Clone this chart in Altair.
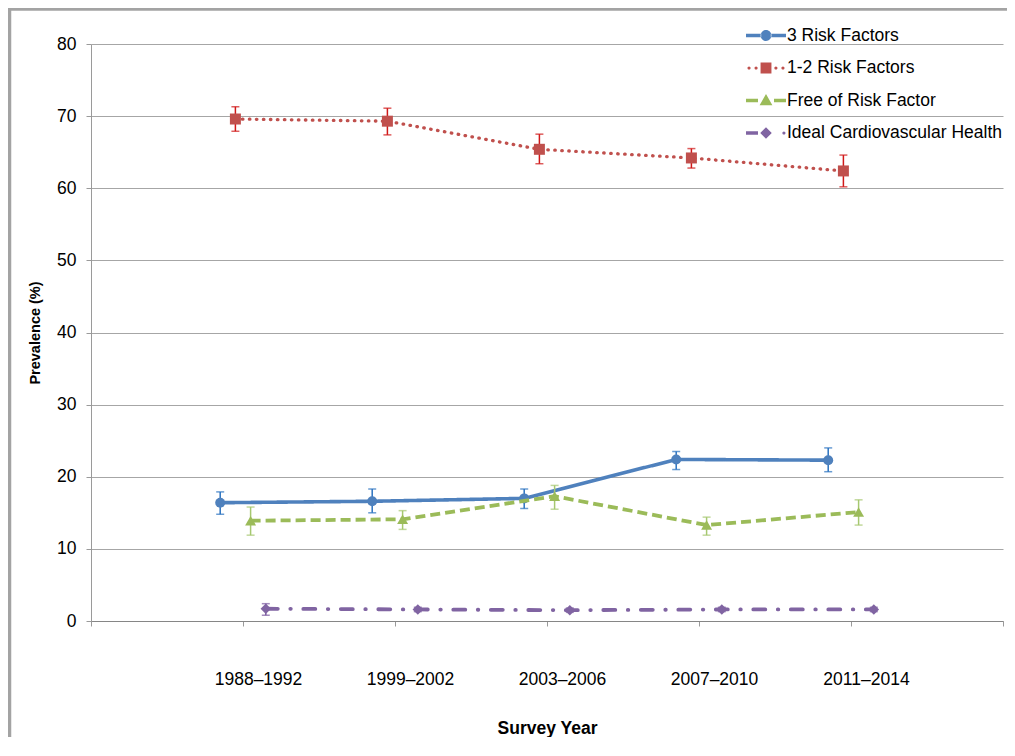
import json
import altair as alt
import pandas as pd

# ---------------- data ----------------
periods = ["1988–1992", "1999–2002", "2003–2006", "2007–2010", "2011–2014"]
series_names = ["3 Risk Factors", "1-2 Risk Factors", "Free of Risk Factor",
                "Ideal Cardiovascular Health"]

three_rf = [16.4, 16.6, 17.0, 22.4, 22.3]
three_rf_lo = [14.8, 15.0, 15.6, 21.0, 20.7]
three_rf_hi = [17.9, 18.3, 18.3, 23.5, 24.0]

one_two_rf = [69.6, 69.3, 65.4, 64.2, 62.4]
one_two_rf_lo = [67.9, 67.4, 63.4, 62.8, 60.2]
one_two_rf_hi = [71.3, 71.1, 67.5, 65.5, 64.6]

free_rf = [13.9, 14.1, 17.3, 13.3, 15.1]
free_rf_lo = [11.9, 12.7, 15.5, 11.9, 13.3]
free_rf_hi = [15.8, 15.3, 18.8, 14.4, 16.8]

ideal_cvh = [1.7, 1.6, 1.5, 1.6, 1.6]
ideal_cvh_lo = [0.8, 1.3, 1.2, 1.3, 1.3]
ideal_cvh_hi = [2.4, 1.9, 1.8, 1.9, 1.9]

y_ticks = [0, 10, 20, 30, 40, 50, 60, 70, 80]

# per-series horizontal jitter (Excel scatter style)
x_offsets = [-0.15, -0.05, 0.05, 0.15]

values = [three_rf, one_two_rf, free_rf, ideal_cvh]
lows = [three_rf_lo, one_two_rf_lo, free_rf_lo, ideal_cvh_lo]
highs = [three_rf_hi, one_two_rf_hi, free_rf_hi, ideal_cvh_hi]

rows = []
for s, name in enumerate(series_names):
    for i, p in enumerate(periods):
        rows.append({"series": name, "period": p, "x": i + 1 + x_offsets[s],
                     "y": values[s][i], "lo": lows[s][i], "hi": highs[s][i]})
df = pd.DataFrame(rows)

# ---------------- styles ----------------
FONT = "Liberation Sans"
line_colors = ["#4f81bd", "#c0504d", "#9bbb59", "#8064a2"]
err_colors = ["#2a72c0", "#d01818", "#a6c870", "#7a5aa0"]
line_widths = [3.6, 3.3, 3.8, 3.8]
line_dashes = [[1, 0], [0.5, 6.5], [10, 5], [12, 12.5, 0.5, 12.5]]
line_caps = ["butt", "round", "butt", "round"]
marker_shapes = ["circle", "square", "triangle-up", "diamond"]
marker_sizes = [100, 121, 120, 110]

# legend symbols: a line pattern with a marker (units: 1 = 16 px with size 1024)
legend_paths = [
    "M-1.25,-0.11L-0.3,-0.11L-0.3,0.11L-1.25,0.11Z "
    "M0.3,-0.11L1.25,-0.11L1.25,0.11L0.3,0.11Z "
    "M-0.34,0A0.34,0.34 0 1,0 0.34,0A0.34,0.34 0 1,0 -0.34,0Z",
    "M-1.16,0A0.1,0.1 0 1,0 -0.96,0A0.1,0.1 0 1,0 -1.16,0Z "
    "M-0.72,0A0.1,0.1 0 1,0 -0.52,0A0.1,0.1 0 1,0 -0.72,0Z "
    "M-0.34,-0.34L0.34,-0.34L0.34,0.34L-0.34,0.34Z "
    "M0.52,0A0.1,0.1 0 1,0 0.72,0A0.1,0.1 0 1,0 0.52,0Z "
    "M0.96,0A0.1,0.1 0 1,0 1.16,0A0.1,0.1 0 1,0 0.96,0Z",
    "M-1.25,-0.11L-0.5,-0.11L-0.5,0.11L-1.25,0.11Z "
    "M0,-0.4L0.4,0.3L-0.4,0.3Z "
    "M0.5,-0.11L1.25,-0.11L1.25,0.11L0.5,0.11Z",
    "M-1.25,-0.11L-0.5,-0.11L-0.5,0.11L-1.25,0.11Z "
    "M0,-0.36L0.36,0L0,0.36L-0.36,0Z "
    "M1.02,0A0.1,0.1 0 1,0 1.22,0A0.1,0.1 0 1,0 1.02,0Z",
]

label_expr = json.dumps([""] + periods + [""], ensure_ascii=False) + "[datum.value]"

x_scale = alt.Scale(domain=[0, 6], nice=False, zero=False)
y_scale = alt.Scale(domain=[0, 80], nice=False)

x_axis = alt.Axis(values=[0, 1, 2, 3, 4, 5, 6], labelExpr=label_expr, labelOffset=15,
                  labelPadding=44, labelFontSize=17.5, labelFont=FONT, labelColor="#000000",
                  grid=False, domainColor="#868686", domainWidth=1.2, tickColor="#9a9a9a",
                  tickSize=5, tickWidth=1, title="Survey Year", titleFont=FONT,
                  titleFontSize=17.5, titleFontWeight="bold", titleColor="#000000",
                  titlePadding=32, labelFlush=False)
y_axis = alt.Axis(values=y_ticks, grid=True, gridColor="#a6a6a6", gridWidth=1,
                  domainColor="#9a9a9a", domainWidth=1, tickColor="#9a9a9a", tickSize=5,
                  labelFontSize=17.5, labelFont=FONT, labelColor="#000000", labelPadding=10,
                  title="Prevalence (%)", titleFont=FONT, titleFontSize=14.5,
                  titleFontWeight="bold", titleColor="#000000", titlePadding=14)

base = alt.Chart(df)
X = alt.X("x:Q", scale=x_scale, axis=x_axis)
Y = alt.Y("y:Q", scale=y_scale, axis=y_axis)

layers = []

# outer frame (left and top edge of the original chart box)
frame_df = pd.DataFrame({"k": [0]})
layers.append(alt.Chart(frame_df).mark_rule(color="#a3a3a3", strokeWidth=3.5).encode(
    x=alt.value(-81.5), y=alt.value(-35), y2=alt.value(700)))
layers.append(alt.Chart(frame_df).mark_rule(color="#a3a3a3", strokeWidth=3.5).encode(
    x=alt.value(-83.2), x2=alt.value(930), y=alt.value(-35)))

for s, name in enumerate(series_names):
    sub = base.transform_filter(alt.datum.series == name)
    layers.append(sub.mark_line(color=line_colors[s], strokeWidth=line_widths[s],
                                strokeDash=line_dashes[s], strokeCap=line_caps[s]).encode(x=X, y=Y))
    layers.append(sub.mark_rule(color=err_colors[s], strokeWidth=1.5).encode(
        x="x:Q", y="lo:Q", y2="hi:Q"))
    layers.append(sub.mark_tick(color=err_colors[s], orient="horizontal", size=8,
                                thickness=1.5).encode(x="x:Q", y="lo:Q"))
    layers.append(sub.mark_tick(color=err_colors[s], orient="horizontal", size=8,
                                thickness=1.5).encode(x="x:Q", y="hi:Q"))
    layers.append(sub.mark_point(shape=marker_shapes[s], filled=True, size=marker_sizes[s],
                                 color=line_colors[s], opacity=1).encode(x="x:Q", y="y:Q"))

legend_def = dict(title=None, orient="none", legendX=659, legendY=-24.5, labelFont=FONT,
                  labelFontSize=17.5, labelColor="#000000", labelLimit=400, labelOffset=5,
                  symbolSize=1024, symbolStrokeWidth=0, symbolOpacity=1, rowPadding=7.5,
                  padding=0)
layers.append(base.transform_filter("false").mark_point(filled=True, opacity=1, size=1024).encode(
    x="x:Q", y="y:Q",
    color=alt.Color("series:N", scale=alt.Scale(domain=series_names, range=line_colors),
                    legend=alt.Legend(**legend_def)),
    shape=alt.Shape("series:N", scale=alt.Scale(domain=series_names, range=legend_paths),
                    legend=alt.Legend(**legend_def)),
))

chart = alt.layer(*layers).properties(
    width=912, height=577,
    padding={"left": 83, "top": 36, "right": 4, "bottom": 116},
    autosize=alt.AutoSizeParams(type="none"),
    background="#ffffff",
).configure_view(stroke=None)

chart.save("out.html", embed_options={"renderer": "svg", "actions": False})
